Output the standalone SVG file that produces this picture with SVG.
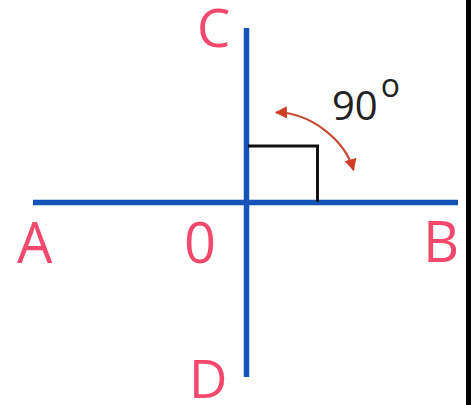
<svg xmlns="http://www.w3.org/2000/svg" width="471" height="405" viewBox="0 0 471 405">
<style>
.lbl{font-family:"Open Sans","Liberation Sans",sans-serif;font-size:56px;fill:#f2496d}
.sm{font-size:53px}
.ax{stroke:#1553b8;stroke-width:5.5;fill:none}
.deg{font-family:"Open Sans","Liberation Sans",sans-serif;fill:#222}
</style>
<defs>
<marker id="ah" viewBox="0 0 10 10" refX="9" refY="5" markerWidth="5.5" markerHeight="5.5" orient="auto-start-reverse" markerUnits="strokeWidth">
<path d="M0,0 L10,5 L0,10 Z" fill="#cc3d24"/>
</marker>
</defs>
<rect x="0" y="0" width="471" height="405" fill="#fff"/>
<rect x="466" y="0" width="5" height="405" fill="#000"/>
<g id="connectors">
<line class="ax" x1="33" y1="202.5" x2="458" y2="202.5"/>
<line class="ax" x1="246.5" y1="28" x2="246.5" y2="377"/>
<path d="M248,146 H317.5 V202" fill="none" stroke="#111" stroke-width="3"/>
<path d="M276,112.5 C310,112 345,140 353.5,170" fill="none" stroke="#c24a35" stroke-width="2.2" marker-start="url(#ah)" marker-end="url(#ah)"/>
</g>
<g id="A"><text class="lbl" x="17" y="263">A</text></g>
<g id="O"><text class="lbl" x="184" y="263">0</text></g>
<g id="B"><text class="lbl" x="423" y="262">B</text></g>
<g id="C"><text class="lbl sm" x="197" y="47">C</text></g>
<g id="D"><text class="lbl sm" x="189" y="398">D</text></g>
<g id="angle"><text class="deg" x="332" y="120" font-size="40">90<tspan font-size="32" dx="3" dy="-23.5">o</tspan></text></g>
</svg>
